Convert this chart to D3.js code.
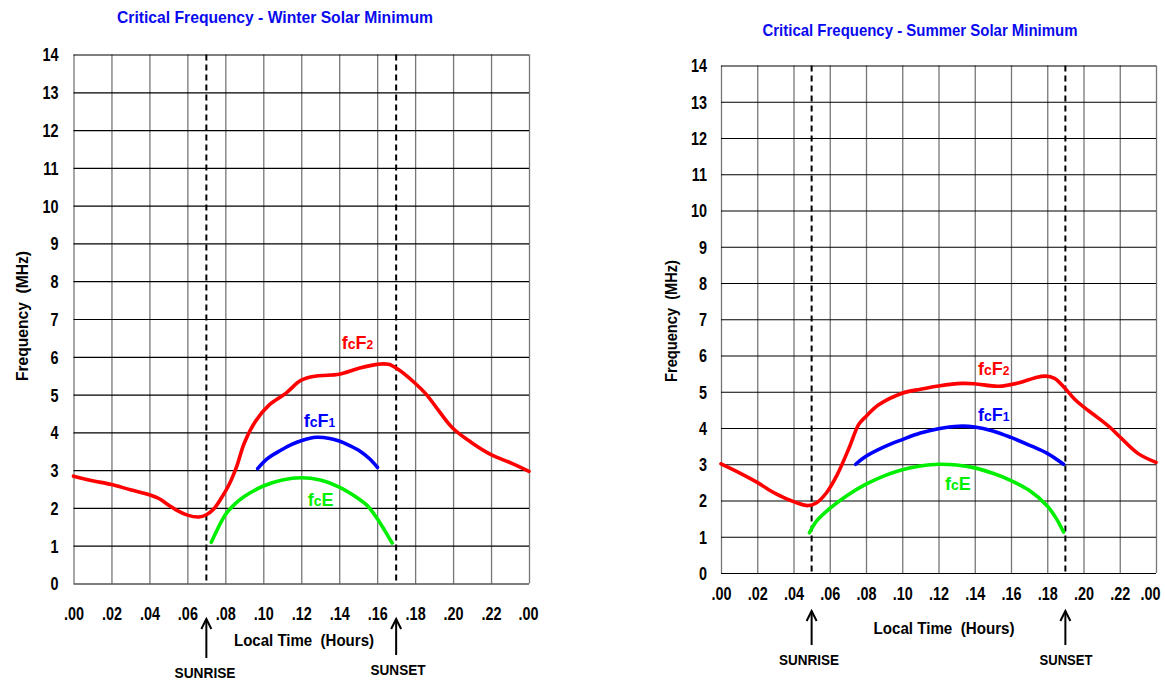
<!DOCTYPE html>
<html>
<head>
<meta charset="utf-8">
<script src="https://cdn.jsdelivr.net/npm/d3@7"></script>
<style>
  body { margin: 0; background: #fff; }
  svg text { font-family: "Liberation Sans", Arial, sans-serif; font-weight: bold; }
</style>
</head>
<body>
<svg id="chart" width="1165" height="681"></svg>
<script>
// ---- tick values / labels ----
const hourTicks = [0, 2, 4, 6, 8, 10, 12, 14, 16, 18, 20, 22, 24];
const hourTickLabels = [".00", ".02", ".04", ".06", ".08", ".10", ".12", ".14", ".16", ".18", ".20", ".22", ".00"];
const freqTicks = [0, 1, 2, 3, 4, 5, 6, 7, 8, 9, 10, 11, 12, 13, 14];

// ---- winter solar minimum: [hour, MHz] ----
const winterF2 = [[0, 2.84], [1, 2.72], [2, 2.62], [3, 2.48], [4, 2.35], [4.5, 2.25], [5, 2.08], [5.5, 1.92],
  [6, 1.81], [6.6, 1.76], [7, 1.82], [7.4, 1.98], [7.8, 2.27], [8.2, 2.62], [8.6, 3.1], [9, 3.72],
  [9.6, 4.3], [10.3, 4.72], [11.2, 5.04], [12, 5.38], [12.8, 5.49], [14, 5.54], [15, 5.69], [16, 5.8],
  [16.6, 5.8], [17.1, 5.67], [18, 5.3], [18.6, 5.0], [19.2, 4.6], [20, 4.1], [21, 3.72], [22, 3.41],
  [23, 3.2], [24, 2.97]];
const winterF1 = [[9.7, 3.04], [10.2, 3.3], [10.9, 3.52], [11.5, 3.68], [12, 3.78], [12.8, 3.87], [13.5, 3.84],
  [14, 3.77], [14.5, 3.66], [15.1, 3.5], [15.6, 3.3], [16.02, 3.07]];
const winterE = [[7.26, 1.09], [7.6, 1.45], [8, 1.82], [8.5, 2.1], [9, 2.3], [10, 2.58], [11, 2.74], [12, 2.8],
  [13, 2.74], [14, 2.55], [15, 2.25], [15.5, 2.05], [16, 1.72], [16.4, 1.4], [16.79, 1.07]];
const winterSun = [7, 17];
const winterLabelPos = [[14.13, 6.21], [12.13, 4.14], [12.34, 2.05]];

// ---- summer solar minimum: [hour, MHz] ----
const summerF2 = [[0, 3.01], [1.07, 2.75], [2, 2.5], [2.9, 2.22], [3.3, 2.12], [4, 1.97], [4.8, 1.86], [5.25, 1.93],
  [5.8, 2.2], [6.4, 2.7], [7.1, 3.49], [7.6, 4.1], [8, 4.32], [8.7, 4.64], [10, 4.96], [11, 5.07], [12, 5.16],
  [13.3, 5.23], [14, 5.22], [15.3, 5.15], [16.4, 5.24], [17.3, 5.38], [17.9, 5.43], [18.4, 5.37], [18.9, 5.14],
  [19.5, 4.8], [20, 4.58], [20.8, 4.28], [21.5, 4.0], [22, 3.76], [23, 3.3], [24, 3.05]];
const summerF1 = [[7.43, 3.0], [8, 3.22], [9, 3.48], [10, 3.68], [11, 3.86], [12, 3.98], [13.1, 4.05], [14, 4.03],
  [15, 3.92], [16, 3.74], [17, 3.53], [18, 3.3], [18.9, 3.0]];
const summerE = [[4.88, 1.11], [5.3, 1.45], [6, 1.78], [7, 2.15], [8, 2.45], [9, 2.68], [10, 2.85], [11, 2.95],
  [12, 3.0], [13, 2.98], [14, 2.9], [15, 2.75], [16, 2.55], [17, 2.28], [18, 1.85], [18.5, 1.5], [18.9, 1.13]];
const summerSun = [5, 19];
const summerLabelPos = [[14.18, 5.46], [14.18, 4.19], [12.36, 2.29]];

// curve label text parts: [big, small, big, small]
const curveNames = [["f", "c", "F", "2"], ["f", "c", "F", "1"], ["f", "c", "E", ""]];
const curveColors = ["#ff0000", "#0000ff", "#00ee00"];

const svg = d3.select("#chart");

function squeeze(sel, f) {
  sel.each(function () {
    const w = this.getComputedTextLength();
    d3.select(this).attr("textLength", w * f).attr("lengthAdjust", "spacingAndGlyphs");
  });
}

function drawPanel(p) {
  const x = d3.scaleLinear().domain([0, 24]).range([p.left, p.right]);
  const y = d3.scaleLinear().domain([0, 14]).range([p.bottom, p.top]);
  const g = svg.append("g");

  // vertical grid (grey) + x labels
  const xa = g.append("g")
    .attr("transform", `translate(0,${p.bottom})`)
    .call(d3.axisBottom(x).tickValues(hourTicks).tickSize(-(p.bottom - p.top))
      .tickFormat((d, i) => hourTickLabels[i]));
  xa.select(".domain").remove();
  xa.selectAll(".tick line").attr("stroke", "#777").attr("stroke-width", 1.3);
  xa.selectAll(".tick text")
    .attr("y", p.xLabelDy).attr("dy", 0)
    .attr("x", (d, i) => i === hourTicks.length - 1 ? p.lastShift : 0)
    .attr("fill", "#000").style("font-size", "18px");
  squeeze(xa.selectAll(".tick text"), 0.8);

  // horizontal grid (black) + y labels
  const ya = g.append("g")
    .attr("transform", `translate(${p.left},0)`)
    .call(d3.axisLeft(y).tickValues(freqTicks).tickSize(-(p.right - p.left)).tickPadding(p.yPad));
  ya.select(".domain").remove();
  ya.selectAll(".tick line").attr("stroke", "#000").attr("stroke-width", 1.2);
  ya.selectAll(".tick text").attr("fill", "#000").attr("dy", "0.36em").style("font-size", "18px");
  squeeze(ya.selectAll(".tick text"), 0.8);

  // sunrise / sunset dashed lines
  g.selectAll("line.sun").data(p.sun).join("line")
    .attr("class", "sun")
    .attr("x1", d => x(d)).attr("x2", d => x(d))
    .attr("y1", p.top).attr("y2", p.bottom)
    .attr("stroke", "#000").attr("stroke-width", 2).attr("stroke-dasharray", "6,4");

  // curves
  const line = d3.line().x(d => x(d[0])).y(d => y(d[1])).curve(d3.curveCatmullRom.alpha(0.5));
  p.series.forEach((s, i) => {
    g.append("path").attr("d", line(s))
      .attr("fill", "none").attr("stroke", curveColors[i])
      .attr("stroke-width", 3.6).attr("stroke-linecap", "round");
  });

  // curve labels
  p.labelPos.forEach((pos, i) => {
    const parts = curveNames[i];
    const t = g.append("text").attr("x", x(pos[0])).attr("y", y(pos[1])).attr("fill", curveColors[i]);
    t.append("tspan").style("font-size", "18px").text(parts[0]);
    t.append("tspan").style("font-size", "14px").text(parts[1]);
    t.append("tspan").style("font-size", "18px").text(parts[2]);
    if (parts[3]) t.append("tspan").style("font-size", "12px").text(parts[3]);
  });

  // arrows + SUNRISE / SUNSET
  const names = ["SUNRISE", "SUNSET"];
  p.sun.forEach((h, i) => {
    const ax = x(h);
    const a = p.arrows[i];
    g.append("line").attr("x1", ax).attr("x2", ax).attr("y1", a[0]).attr("y2", a[1])
      .attr("stroke", "#000").attr("stroke-width", 2);
    g.append("path").attr("d", `M${ax - 5},${a[0] + 10}L${ax},${a[0]}L${ax + 5},${a[0] + 10}`)
      .attr("fill", "none").attr("stroke", "#000").attr("stroke-width", 2);
    g.append("text").attr("x", p.sunText[i][0]).attr("y", p.sunText[i][1])
      .attr("text-anchor", "middle").style("font-size", "15px")
      .attr("textLength", p.sunText[i][2]).attr("lengthAdjust", "spacingAndGlyphs")
      .text(names[i]);
  });

  // title
  g.append("text").attr("x", p.title[0]).attr("y", p.title[1])
    .attr("text-anchor", "middle").attr("fill", "#0a0aee").style("font-size", "17px")
    .attr("textLength", p.title[2]).attr("lengthAdjust", "spacingAndGlyphs")
    .text(p.titleText);

  // x axis title
  g.append("text").attr("x", p.xTitle[0]).attr("y", p.xTitle[1])
    .attr("text-anchor", "middle").style("font-size", "17px")
    .attr("textLength", p.xTitle[2]).attr("lengthAdjust", "spacingAndGlyphs")
    .attr("xml:space", "preserve")
    .text("Local Time  (Hours)");

  // y axis title
  g.append("text")
    .attr("transform", `translate(${p.yTitle[0]},${p.yTitle[1]}) rotate(-90)`)
    .attr("text-anchor", "middle").style("font-size", "17px")
    .attr("textLength", p.yTitle[2]).attr("lengthAdjust", "spacingAndGlyphs")
    .attr("xml:space", "preserve")
    .text("Frequency  (MHz)");
}

drawPanel({
  left: 73.5, right: 529, top: 54.5, bottom: 583.5,
  xLabelDy: 36, yPad: 15, lastShift: -1,
  sun: winterSun,
  series: [winterF2, winterF1, winterE],
  labelPos: winterLabelPos,
  arrows: [[619, 658], [619, 655]],
  sunText: [[205, 678, 61], [398, 675, 55]],
  title: [275, 23, 316], titleText: "Critical Frequency - Winter Solar Minimum",
  xTitle: [304, 646, 140],
  yTitle: [28, 316, 130]
});

drawPanel({
  left: 721, right: 1156, top: 65.5, bottom: 573,
  xLabelDy: 27, yPad: 14, lastShift: -6,
  sun: summerSun,
  series: [summerF2, summerF1, summerE],
  labelPos: summerLabelPos,
  arrows: [[611, 645], [611, 645]],
  sunText: [[809, 665, 60], [1066, 665, 53]],
  title: [920, 36, 315], titleText: "Critical Frequency - Summer Solar Minimum",
  xTitle: [944, 634, 141],
  yTitle: [677, 321, 122]
});
</script>
</body>
</html>
